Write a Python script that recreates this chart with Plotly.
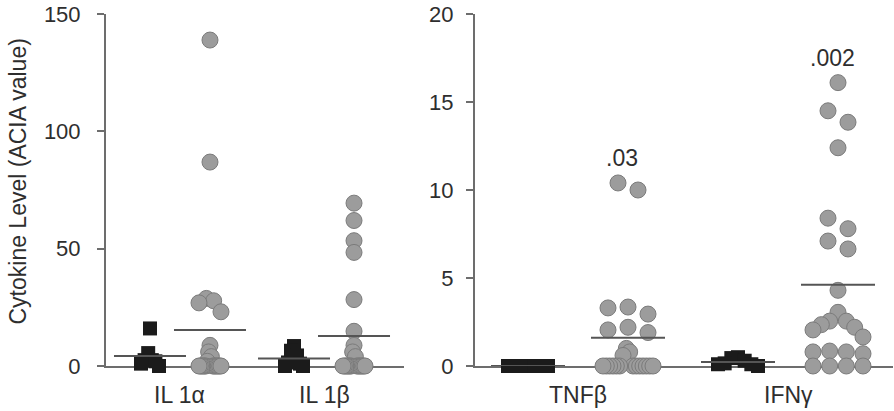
import plotly.graph_objects as go

# ---------------- data (ACIA values) ----------------
left_labels = ["IL 1α", "IL 1β"]
right_labels = ["TNFβ", "IFNγ"]

il1a_control = [16.0, 5.5, 2.5, 2.5, 2.0, 1.0, 0.0]
il1a_patient = [138.9, 86.9, 28.8, 27.8, 26.9, 23.1, 8.8, 6.0, 4.0, 2.0,
                0.0, 0.0, 0.0, 0.0, 0.0, 0.0, 0.0, 0.0, 0.0, 0.0, 0.0, 0.0, 0.0]
il1b_control = [8.5, 6.5, 4.5, 1.5, 1.0, 0.0, 0.0]
il1b_patient = [69.4, 62.0, 53.4, 48.4, 28.3, 14.8, 8.8, 6.0, 4.0,
                0.0, 0.0, 0.0, 0.0, 0.0, 0.0, 0.0, 0.0, 0.0, 0.0, 0.0, 0.0, 0.0, 0.0]

tnfb_control = [0.0, 0.0, 0.0, 0.0, 0.0, 0.0, 0.0]
tnfb_patient = [10.4, 10.0, 3.35, 3.3, 2.95, 2.2, 2.05, 1.9, 1.0, 0.8, 0.6,
                0.0, 0.0, 0.0, 0.0, 0.0, 0.0, 0.0, 0.0, 0.0, 0.0, 0.0, 0.0, 0.0]
ifng_control = [0.5, 0.45, 0.3, 0.15, 0.1, 0.1, 0.0]
ifng_patient = [16.1, 14.5, 13.85, 12.4, 8.4, 7.8, 7.1, 6.65, 4.3, 3.05,
                2.55, 2.55, 2.35, 2.2, 2.05, 1.65, 0.85, 0.8, 0.8, 0.7,
                0.0, 0.0, 0.0, 0.0]

p_values = [".03", ".002"]          # control vs patient, right panel
left_ticks = [0, 50, 100, 150]
right_ticks = [0, 5, 10, 15, 20]

# ---------------- layout geometry ----------------
W, H = 894, 411
MARGIN = dict(l=106, r=1, t=14, b=45)
PLOT_W = W - MARGIN["l"] - MARGIN["r"]
PLOT_H = H - MARGIN["t"] - MARGIN["b"]

FONT = "Arial, 'Liberation Sans', sans-serif"
AXIS_GRAY = "#6d6d6d"
TEXT = "#2e2e2e"
CIRCLE_FILL = "#9c9c9c"
CIRCLE_EDGE = "#7b7b7b"
SQUARE_FILL = "#1b1b1b"
MEAN_LINE = "#555555"

panels = [
    dict(xa="x", ya="y", domain=[0, 298 / PLOT_W], xrange=[-0.733, 4.233],
         yrange=[0, 150], ticks=left_ticks, labels=left_labels,
         slots=[(0.0, 1.0), (2.4, 3.4)],
         groups=[(il1a_control, il1a_patient), (il1b_control, il1b_patient)],
         circ=dict(gap=10, step=11, half=11), sq=dict(gap=10, step=8, half=9),
         mean_half=36, standoff=12, pvals=None),
    dict(xa="x2", ya="y2", domain=[369 / PLOT_W, 1], xrange=[-0.53, 3.65],
         yrange=[0, 20], ticks=right_ticks, labels=right_labels,
         slots=[(0.0, 1.0), (2.1, 3.1)],
         groups=[(tnfb_control, tnfb_patient), (ifng_control, ifng_patient)],
         circ=dict(gap=12, step=20, half=25), sq=dict(gap=12, step=8, half=20),
         mean_half=37, standoff=8, pvals=p_values),
]


def spread(vals, ppy, gap, step, half):
    """Horizontal pixel offsets: points whose values sit close together
    (in screen pixels) are fanned out around the group centre, highest
    value in the middle."""
    n = len(vals)
    order = sorted(range(n), key=lambda i: -vals[i])
    clusters = [[order[0]]]
    for a, b in zip(order, order[1:]):
        if (vals[a] - vals[b]) * ppy <= gap:
            clusters[-1].append(b)
        else:
            clusters.append([b])
    offs = [0.0] * n
    for cl in clusters:
        k = len(cl)
        if k < 2:
            continue
        s = min(step, 2 * half / (k - 1))
        slots = sorted(((j - (k - 1) / 2) * s for j in range(k)),
                       key=lambda o: (abs(o), o))
        for i, o in zip(cl, slots):
            offs[i] = o
    return offs


fig = go.Figure()
annotations = []

for p in panels:
    ppx = PLOT_W * (p["domain"][1] - p["domain"][0]) / (p["xrange"][1] - p["xrange"][0])
    ppy = PLOT_H / (p["yrange"][1] - p["yrange"][0])

    for gi, ((ctrl, pat), (xc, xp)) in enumerate(zip(p["groups"], p["slots"])):
        for vals, xcen, is_ctrl in ((ctrl, xc, True), (pat, xp, False)):
            cfg = p["sq"] if is_ctrl else p["circ"]
            offs = spread(vals, ppy, **cfg)
            xs = [xcen + o / ppx for o in offs]
            if is_ctrl:
                marker = dict(symbol="square", size=14, color=SQUARE_FILL,
                              line=dict(width=0))
            else:
                marker = dict(symbol="circle", size=16, color=CIRCLE_FILL,
                              line=dict(width=1, color=CIRCLE_EDGE))
            fig.add_trace(go.Scatter(x=xs, y=vals, mode="markers", marker=marker,
                                     xaxis=p["xa"], yaxis=p["ya"],
                                     cliponaxis=False, showlegend=False,
                                     hoverinfo="y"))
        # group means drawn above the points
        for vals, xcen in ((ctrl, xc), (pat, xp)):
            m = sum(vals) / len(vals)
            h = p["mean_half"] / ppx
            fig.add_trace(go.Scatter(x=[xcen - h, xcen + h], y=[m, m], mode="lines",
                                     line=dict(color=MEAN_LINE, width=2),
                                     xaxis=p["xa"], yaxis=p["ya"],
                                     cliponaxis=False, showlegend=False,
                                     hoverinfo="skip"))
        # category label under each control/patient pair
        annotations.append(dict(text=p["labels"][gi], x=(xc + xp) / 2, xref=p["xa"],
                                y=0, yref="paper", yanchor="top", yshift=-14,
                                showarrow=False, font=dict(size=23, color=TEXT, family=FONT)))
        if p["pvals"]:
            annotations.append(dict(text=p["pvals"][gi], x=xp, xref=p["xa"],
                                    y=max(pat), yref=p["ya"], yanchor="middle",
                                    yshift=25, xshift=-6, showarrow=False,
                                    font=dict(size=23, color=TEXT, family=FONT)))

annotations.append(dict(text="Cytokine Level (ACIA value)", textangle=-90,
                        x=(17.5 - MARGIN["l"]) / PLOT_W, xref="paper", xanchor="center",
                        y=(H - MARGIN["b"] - 182) / PLOT_H, yref="paper", yanchor="middle",
                        showarrow=False, font=dict(size=23, color=TEXT, family=FONT)))

axis_common = dict(showgrid=False, zeroline=False, showline=True,
                   linecolor=AXIS_GRAY, linewidth=2, layer="below traces")

layout = dict(width=W, height=H, margin=MARGIN, plot_bgcolor="white",
              paper_bgcolor="white", font=dict(family=FONT, color=TEXT),
              annotations=annotations, showlegend=False)

for p in panels:
    xk = "xaxis" if p["xa"] == "x" else "xaxis2"
    yk = "yaxis" if p["ya"] == "y" else "yaxis2"
    layout[xk] = dict(axis_common, domain=p["domain"], range=p["xrange"],
                      showticklabels=False, ticks="", anchor=p["ya"])
    layout[yk] = dict(axis_common, range=p["yrange"], tickvals=p["ticks"],
                      ticks="outside", ticklen=7, tickwidth=2, tickcolor=AXIS_GRAY,
                      ticklabelstandoff=p["standoff"],
                      tickfont=dict(size=22, color=TEXT, family=FONT),
                      anchor=p["xa"])

fig.update_layout(**layout)
fig.write_html("out.html")
